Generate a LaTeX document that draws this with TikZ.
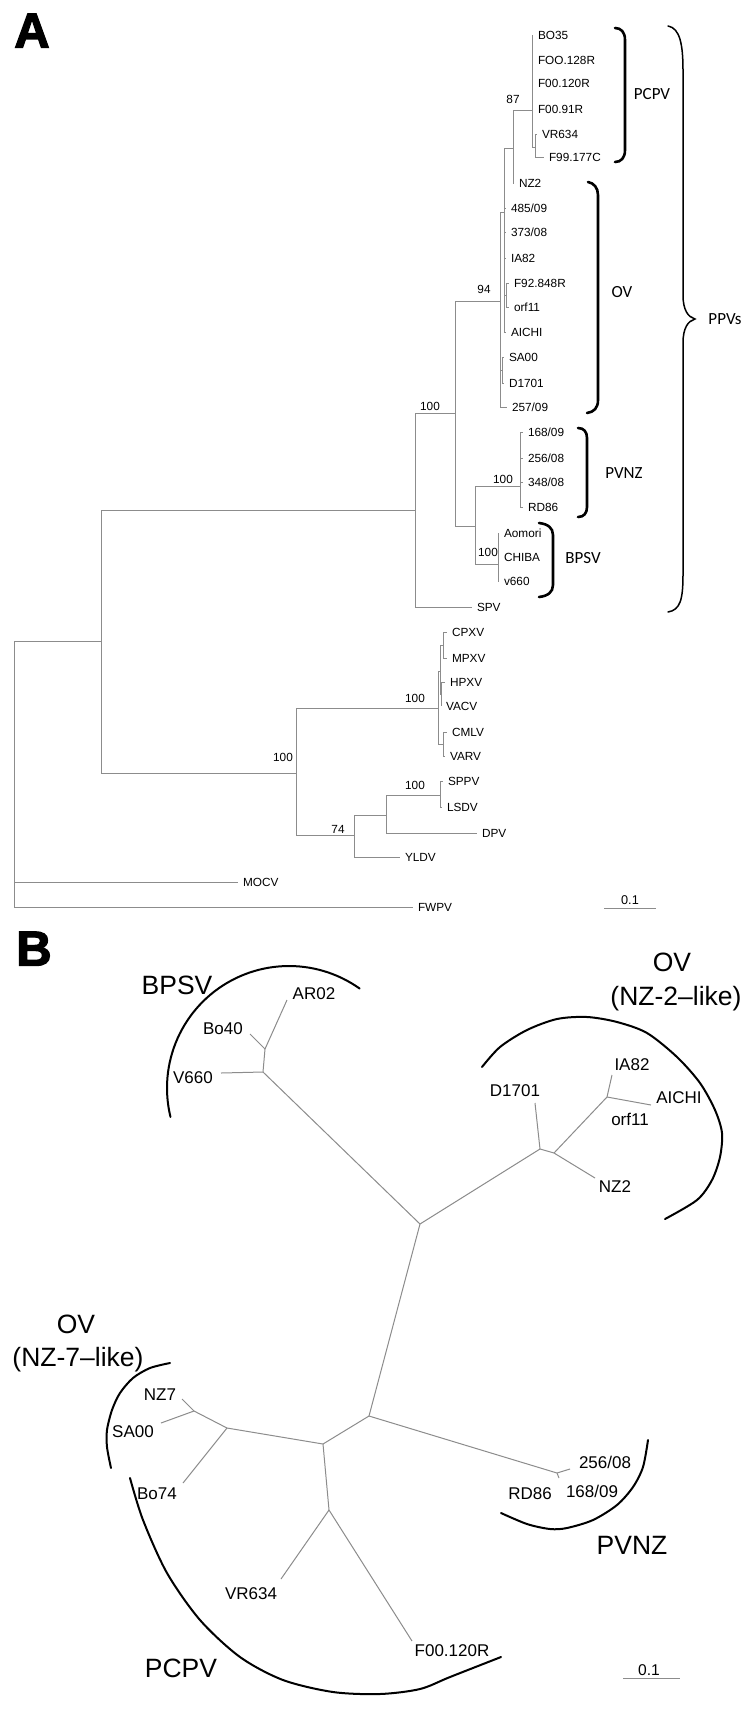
\documentclass[tikz,border=0pt]{standalone}
\usepackage{fontspec}
\setmainfont{Liberation Sans}
\newfontfamily\carl{Carlito}
\newfontface\heavyface{Liberation Sans Bold}[FakeBold=2.5]
\definecolor{treegray}{RGB}{140,140,140}
\begin{document}
\begin{tikzpicture}[x=1pt,y=-1pt,
  br/.style={draw=treegray,line width=1pt},
  tipA/.style={font=\fontsize{11.8}{12}\selectfont,inner sep=0pt,outer xsep=5pt,text height=8.5pt,text depth=0pt,anchor=west},
  boot/.style={font=\fontsize{11.8}{12}\selectfont,inner sep=0pt,text height=8.5pt,text depth=0pt},
  grpA/.style={font=\carl\fontsize{17}{18}\selectfont,inner sep=0pt,text height=11pt,text depth=0pt},
  brk/.style={draw=black,line width=2.6pt,line cap=round},
  bracestyle/.style={draw=black,line width=1.5pt,line cap=round},
  tipB/.style={font=\fontsize{17}{18}\selectfont,inner sep=0pt,text height=12.2pt,text depth=0pt},
  grpB/.style={font=\fontsize{26.5}{30}\selectfont,inner sep=0pt,text height=19pt,text depth=0pt},
  arcB/.style={draw=black,line width=2pt,line cap=round},
  panel/.style={font=\heavyface\fontsize{49}{50}\selectfont,inner sep=0pt,text height=35pt,text depth=0pt},
  sclab/.style={inner sep=0pt,text depth=0pt}
]
\useasboundingbox[fill=white] (0,0) rectangle (750,1713);

% ---------------- Panel A ----------------
\node[panel] (pA) at (32,30) {A};

% internal nodes
\coordinate (root) at (14,641);
\coordinate (n101) at (101,641);
\coordinate (n415) at (415,510);
\coordinate (n455) at (455,413);
\coordinate (n500) at (500,301);
\coordinate (n504) at (504,212);
\coordinate (n513) at (513,148);
\coordinate (n532) at (532,110);
\coordinate (n535) at (535,147);
\coordinate (n506) at (506,295);
\coordinate (n502) at (502,370);
\coordinate (n475) at (475,526);
\coordinate (n520) at (520,486);
\coordinate (n498) at (498,564);
\coordinate (n296) at (296,773);
\coordinate (n438) at (438,708);
\coordinate (n440) at (440,671);
\coordinate (n443a) at (443,645);
\coordinate (n441) at (441,694);
\coordinate (n443b) at (443,744);
\coordinate (n354) at (354,835);
\coordinate (n386) at (386,815);
\coordinate (n440b) at (440,795);

% tips
\node[tipA] (tBO) at (533,35) {BO35};
\node[tipA] (tFOO) at (533,60) {FOO.128R};
\node[tipA] (tFa) at (533,83) {F00.120R};
\node[tipA] (tFb) at (533,109) {F00.91R};
\node[tipA] (tVRa) at (537,134) {VR634};
\node[tipA] (tF99) at (544,157) {F99.177C};
\node[tipA] (tNZa) at (514,183) {NZ2};
\node[tipA] (t485) at (506,208) {485/09};
\node[tipA] (t373) at (506,232) {373/08};
\node[tipA] (tIAa) at (506,258) {IA82};
\node[tipA] (tF92) at (509,283) {F92.848R};
\node[tipA] (torfa) at (509,307) {orf11};
\node[tipA] (tAIa) at (506,332) {AICHI};
\node[tipA] (tSAa) at (504,357) {SA00};
\node[tipA] (tDa) at (504,383) {D1701};
\node[tipA] (t257) at (507,407) {257/09};
\node[tipA] (t168a) at (523,432) {168/09};
\node[tipA] (t256a) at (523,458) {256/08};
\node[tipA] (t348) at (523,482) {348/08};
\node[tipA] (tRDa) at (523,507) {RD86};
\node[tipA] (tAom) at (499,533) {Aomori};
\node[tipA] (tCHI) at (499,557) {CHIBA};
\node[tipA] (tv660) at (499,581) {v660};
\node[tipA] (tSPV) at (472,607) {SPV};
\node[tipA] (tCPXV) at (447,632) {CPXV};
\node[tipA] (tMPXV) at (447,658) {MPXV};
\node[tipA] (tHPXV) at (445,682) {HPXV};
\node[tipA] (tVACV) at (441,706) {VACV};
\node[tipA] (tCMLV) at (447,732) {CMLV};
\node[tipA] (tVARV) at (445,756) {VARV};
\node[tipA] (tSPPV) at (443,781) {SPPV};
\node[tipA] (tLSDV) at (442,807) {LSDV};
\node[tipA] (tDPV) at (477,833) {DPV};
\node[tipA] (tYLDV) at (400,857) {YLDV};
\node[tipA] (tMOCV) at (238,882) {MOCV};
\node[tipA] (tFWPV) at (413,907) {FWPV};

% branches
\draw[br] (root) |- (n101);
\draw[br] (root) |- (tMOCV.west);
\draw[br] (root) |- (tFWPV.west);
\draw[br] (n101) |- (n415);
\draw[br] (n101) |- (n296);
\draw[br] (n415) |- (n455);
\draw[br] (n415) |- (tSPV.west);
\draw[br] (n455) |- (n500);
\draw[br] (n455) |- (n475);
\draw[br] (n500) |- (n504);
\draw[br] (n500) |- (n502);
\draw[br] (n500) |- (t257.west);
\draw[br] (n504) |- (n513);
\draw[br] (n504) |- (t485.west);
\draw[br] (n504) |- (t373.west);
\draw[br] (n504) |- (tIAa.west);
\draw[br] (n504) |- (n506);
\draw[br] (n504) |- (tAIa.west);
\draw[br] (n513) |- (n532);
\draw[br] (n513) |- (tNZa.west);
\draw[br] (n532) |- (tBO.west);
\draw[br] (n532) |- (tFOO.west);
\draw[br] (n532) |- (tFa.west);
\draw[br] (n532) |- (tFb.west);
\draw[br] (n532) |- (n535);
\draw[br] (n535) |- (tVRa.west);
\draw[br] (n535) |- (tF99.west);
\draw[br] (n506) |- (tF92.west);
\draw[br] (n506) |- (torfa.west);
\draw[br] (n502) |- (tSAa.west);
\draw[br] (n502) |- (tDa.west);
\draw[br] (n475) |- (n520);
\draw[br] (n475) |- (n498);
\draw[br] (n520) |- (t168a.west);
\draw[br] (n520) |- (t256a.west);
\draw[br] (n520) |- (t348.west);
\draw[br] (n520) |- (tRDa.west);
\draw[br] (n498) |- (tAom.west);
\draw[br] (n498) |- (tCHI.west);
\draw[br] (n498) |- (tv660.west);
\draw[br] (n296) |- (n438);
\draw[br] (n296) |- (n354);
\draw[br] (n438) |- (n440);
\draw[br] (n438) |- (n443b);
\draw[br] (n440) |- (n443a);
\draw[br] (n440) |- (n441);
\draw[br] (n443a) |- (tCPXV.west);
\draw[br] (n443a) |- (tMPXV.west);
\draw[br] (n441) |- (tHPXV.west);
\draw[br] (n441) |- (tVACV.west);
\draw[br] (n443b) |- (tCMLV.west);
\draw[br] (n443b) |- (tVARV.west);
\draw[br] (n354) |- (n386);
\draw[br] (n354) |- (tYLDV.west);
\draw[br] (n386) |- (n440b);
\draw[br] (n386) |- (tDPV.west);
\draw[br] (n440b) |- (tSPPV.west);
\draw[br] (n440b) |- (tLSDV.west);

% bootstrap values
\node[boot] (b87) at (513,99) {87};
\node[boot] (b94) at (484,289) {94};
\node[boot] (b100a) at (430,406) {100};
\node[boot] (b100b) at (503,479) {100};
\node[boot] (b100c) at (488,552) {100};
\node[boot] (b100d) at (415,698) {100};
\node[boot] (b100e) at (283,757) {100};
\node[boot] (b74) at (338,829) {74};
\node[boot] (b100f) at (415,785) {100};

% brackets
\draw[brk] (615,28) .. controls (621,28) and (625,32) .. (625,40) -- (625,150) .. controls (625,158) and (621,162) .. (615,162);
\draw[brk] (588,182) .. controls (594,183) and (598,188) .. (598,195) -- (598,400) .. controls (598,408) and (594,412) .. (587,413);
\draw[brk] (578,428) .. controls (584,428) and (587,432) .. (587,438) -- (587,507) .. controls (587,513) and (584,517) .. (578,517);
\draw[brk] (539,523) .. controls (548,524) and (553,528) .. (553,535) -- (553,585) .. controls (553,592) and (548,596) .. (539,597);
\draw[bracestyle] (668,26) .. controls (680,28) and (683,45) .. (683,70) -- (683,295) .. controls (683,310) and (688,317) .. (695,319) .. controls (688,321) and (683,328) .. (683,343) -- (683,575) .. controls (683,600) and (680,610) .. (668,612);

\node[grpA] (gPCPV) at (652,94) {PCPV};
\node[grpA] (gOV) at (622,292) {OV};
\node[grpA] (gPVNZ) at (624,473) {PVNZ};
\node[grpA] (gBPSV) at (583,558) {BPSV};
\node[grpA] (gPPV) at (725,319) {PPVs};

% scale bar A
\coordinate (sa1) at (604,908);
\coordinate (sa2) at (656,908);
\draw[br] (sa1) -- (sa2);
\node[sclab,font=\fontsize{12.7}{13}\selectfont,text height=9pt] (sal) at (630,900) {0.1};

% ---------------- Panel B ----------------
\node[panel] (pB) at (34,948) {B};

\coordinate (C) at (420,1224);
\coordinate (bn2) at (263,1072);
\coordinate (bn1) at (265,1049);
\coordinate (tV660) at (221,1073);
\coordinate (tBo40) at (250,1034);
\coordinate (tAR02) at (287,1000);
\coordinate (D) at (540,1149);
\coordinate (tD1701) at (535,1103);
\coordinate (E) at (554,1153);
\coordinate (tNZ2) at (595,1178);
\coordinate (F) at (607,1097);
\coordinate (tIA82) at (612,1075);
\coordinate (tAICHI) at (651,1105);
\coordinate (d) at (369,1416);
\coordinate (c) at (323,1444);
\coordinate (p) at (557,1473);
\coordinate (t256) at (570,1469);
\coordinate (t168) at (559,1478);
\coordinate (b) at (227,1428);
\coordinate (a) at (194,1411);
\coordinate (tNZ7) at (182,1399);
\coordinate (tSA00) at (161,1423);
\coordinate (tBo74) at (183,1483);
\coordinate (e) at (329,1510);
\coordinate (tVR634) at (281,1579);
\coordinate (tF00) at (412,1641);

\draw[br] (C) -- (bn2);
\draw[br] (bn2) -- (tV660);
\draw[br] (bn2) -- (bn1);
\draw[br] (bn1) -- (tBo40);
\draw[br] (bn1) -- (tAR02);
\draw[br] (C) -- (D);
\draw[br] (D) -- (tD1701);
\draw[br] (D) -- (E);
\draw[br] (E) -- (tNZ2);
\draw[br] (E) -- (F);
\draw[br] (F) -- (tIA82);
\draw[br] (F) -- (tAICHI);
\draw[br] (C) -- (d);
\draw[br] (d) -- (c);
\draw[br] (d) -- (p);
\draw[br] (p) -- (t256);
\draw[br] (p) -- (t168);
\draw[br] (c) -- (b);
\draw[br] (b) -- (a);
\draw[br] (a) -- (tNZ7);
\draw[br] (a) -- (tSA00);
\draw[br] (b) -- (tBo74);
\draw[br] (c) -- (e);
\draw[br] (e) -- (tVR634);
\draw[br] (e) -- (tF00);

% tip labels B
\node[tipB] (lAR02) at (314,993) {AR02};
\node[tipB] (lBo40) at (223,1028) {Bo40};
\node[tipB] (lV660) at (193,1077) {V660};
\node[tipB] (lD1701) at (515,1090) {D1701};
\node[tipB] (lIA82) at (632,1064) {IA82};
\node[tipB] (lAICHI) at (679,1097) {AICHI};
\node[tipB] (lorf11) at (630,1119) {orf11};
\node[tipB] (lNZ2) at (615,1186) {NZ2};
\node[tipB] (lNZ7) at (160,1394) {NZ7};
\node[tipB] (lSA00) at (133,1431) {SA00};
\node[tipB] (lBo74) at (157,1493) {Bo74};
\node[tipB] (lVR634) at (251,1593) {VR634};
\node[tipB] (lF00) at (452,1650) {F00.120R};
\node[tipB] (l256) at (605,1462) {256/08};
\node[tipB] (l168) at (592,1491) {168/09};
\node[tipB] (lRD86) at (530,1493) {RD86};

% arcs B
\draw[arcB] plot[domain=-193.7:-54.6,samples=60] ({289+122*cos(\x)},{1088+122*sin(\x)});
\draw[arcB] plot[smooth] coordinates {(482,1067) (500,1047) (527,1030) (557,1019) (587,1017) (617,1022) (647,1033) (677,1057) (700,1083) (715,1110) (722,1133) (720,1157) (712,1180) (697,1200) (665,1219)};
\draw[arcB] plot[smooth] coordinates {(170,1363) (150,1368) (133,1378) (120,1393) (112,1410) (107,1430) (107,1447) (111,1468)};
\draw[arcB] plot[smooth] coordinates {(130,1478) (143,1520) (167,1573) (200,1620) (240,1657) (283,1680) (333,1692) (380,1694) (420,1689) (450,1677) (501,1657)};
\draw[arcB] plot[smooth] coordinates {(648,1440) (643,1467) (633,1487) (617,1505) (593,1520) (567,1528) (550,1529) (527,1524) (501,1513)};

% group labels B
\node[grpB] (gBPSVb) at (177,985) {BPSV};
\node[grpB] (gOVa) at (672,962) {OV};
\node[grpB] (gOVa2) at (676,996) {(NZ-2–like)};
\node[grpB] (gOVb) at (76,1324) {OV};
\node[grpB] (gOVb2) at (78,1357) {(NZ-7–like)};
\node[grpB] (gPCPVb) at (181,1668) {PCPV};
\node[grpB] (gPVNZb) at (632,1545) {PVNZ};

% scale bar B
\coordinate (sb1) at (623,1678);
\coordinate (sb2) at (680,1678);
\draw[br] (sb1) -- (sb2);
\node[sclab,font=\fontsize{15.6}{16}\selectfont,text height=11pt] (sbl) at (649,1670) {0.1};
\end{tikzpicture}
\end{document}
